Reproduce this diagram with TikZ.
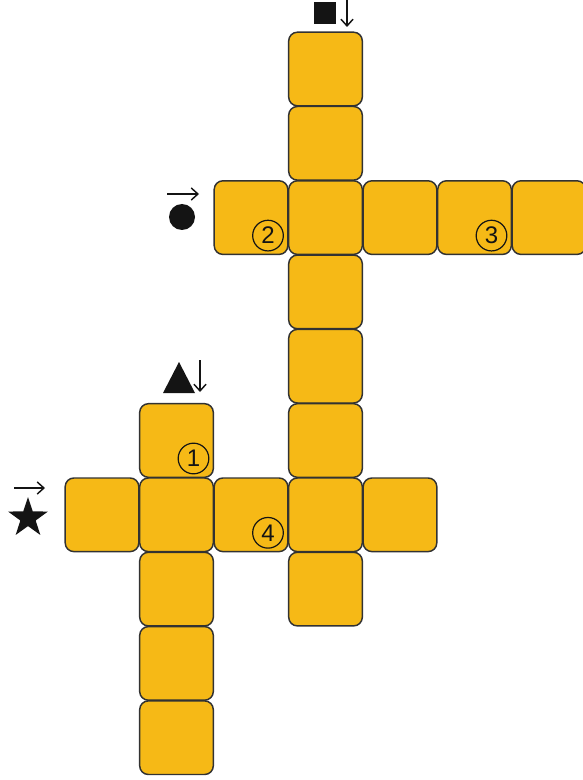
\documentclass[tikz,border=0pt]{standalone}
\usepackage{fontspec}
\setmainfont{Liberation Sans}
\usetikzlibrary{shapes.geometric,arrows.meta}
\definecolor{cellfill}{RGB}{246,185,22}
\definecolor{cellline}{RGB}{50,50,50}
\definecolor{ink}{RGB}{20,20,20}
\tikzset{
  cell/.style={draw=cellline, fill=cellfill, line width=1.1pt, rounded corners=6.5pt,
    minimum size=55.2pt, inner sep=0pt},
  numlabel/.style={circle, draw=ink, line width=0.9pt, minimum size=23pt, inner sep=0pt,
    text=ink, font=\fontsize{18}{18}\selectfont},
  pointer/.style={draw=ink, line width=1.1pt, -{Straight Barb[length=5pt,width=9pt,line width=1.1pt]}},
  glyph/.style={fill=ink, draw=none, inner sep=0pt}
}
\begin{document}
\begin{tikzpicture}[x=0.75pt,y=-0.75pt]
\useasboundingbox (0,0) rectangle (582,780);
% vertical word in column 3, rows 0-7
\foreach \r in {0,...,7}{
  \node[cell] (a\r) at ({102+74.5*3},{69+74.3*\r}) {};
}
% horizontal word in row 2, columns 2,4,5,6
\foreach \c in {2,4,5,6}{
  \node[cell] (b\c) at ({102+74.5*\c},{69+74.3*2}) {};
}
% vertical word in column 1, rows 5-9
\foreach \r in {5,...,9}{
  \node[cell] (d\r) at ({102+74.5*1},{69+74.3*\r}) {};
}
% horizontal word in row 6, columns 0,2,4
\foreach \c in {0,2,4}{
  \node[cell] (e\c) at ({102+74.5*\c},{69+74.3*6}) {};
}
% numbers
\node[numlabel] (n2) at ([shift={(17,18)}]b2.center) {2};
\node[numlabel] (n3) at ([shift={(17,18)}]b5.center) {3};
\node[numlabel] (n1) at ([shift={(17,18)}]d5.center) {1};
\node[numlabel] (n4) at ([shift={(17,18)}]e2.center) {4};
% symbols
\node[glyph, rectangle, minimum size=15.8pt] (sq) at (325,13) {};
\coordinate (sqa) at (347,0);
\coordinate (sqb) at (347,27);
\draw[pointer] (sqa) -- (sqb);

\node[glyph, circle, minimum size=19.5pt] (ci) at (182,217) {};
\coordinate (cia) at (167,194);
\coordinate (cib) at (199,194);
\draw[pointer] (cia) -- (cib);

\fill[ink] (163,393) -- (195,393) -- (179,362) -- cycle;
\coordinate (tra) at (200,360);
\coordinate (trb) at (200,392);
\draw[pointer] (tra) -- (trb);

\node[glyph, star, star points=5, star point ratio=2.6, minimum size=31.5pt] (st) at (28,518) {};
\coordinate (sta) at (14,488);
\coordinate (stb) at (45,488);
\draw[pointer] (sta) -- (stb);
\end{tikzpicture}
\end{document}
